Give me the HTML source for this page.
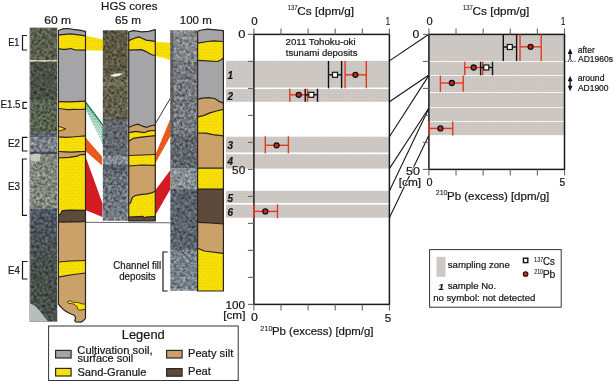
<!DOCTYPE html><html><head><meta charset="utf-8"><style>
html,body{margin:0;padding:0;background:#fff;width:614px;height:382px;overflow:hidden}
svg{display:block;will-change:transform}
text{font-family:"Liberation Sans", sans-serif;fill:#151515;stroke:#151515;stroke-width:0.2px}
</style></head><body>
<svg width="614" height="382" viewBox="0 0 614 382">
<defs>
<pattern id="dots" width="6" height="6" patternUnits="userSpaceOnUse"><rect width="6" height="6" fill="#fae100"/><g fill="#a8983c" opacity="0.75"><circle cx="1" cy="1" r="0.5"/><circle cx="4" cy="2" r="0.5"/><circle cx="2" cy="4.2" r="0.5"/><circle cx="5" cy="5" r="0.5"/></g></pattern>
<pattern id="bandp" width="3" height="3" patternUnits="userSpaceOnUse"><rect width="3" height="3" fill="#cdc8c4"/><rect x="1" y="1" width="1" height="1" fill="#c4bfbb"/></pattern>
<filter id="noise" x="0" y="0" width="100%" height="100%" color-interpolation-filters="sRGB">
<feTurbulence type="fractalNoise" baseFrequency="0.35" numOctaves="3" seed="7" result="t"/>
<feColorMatrix in="t" type="matrix" values="0.7 0 0 0 0.15  0.7 0 0 0 0.15  0.7 0 0 0 0.15  0 0 0 0 1" result="g"/>
<feBlend in="g" in2="SourceGraphic" mode="overlay" result="b"/>
<feComposite in="b" in2="SourceGraphic" operator="in"/>
</filter>
</defs>

<polygon points="85.8,35.7 103,39.5 103,50.6 85.8,50.6" fill="url(#dots)"/>
<polygon points="155.5,42 170.5,42.8 170.5,60 155.5,55.8" fill="url(#dots)"/>
<linearGradient id="gg" x1="0" y1="0" x2="-0.35" y2="0.6"><stop offset="0" stop-color="#2a9a66" stop-opacity="0.3"/><stop offset="1" stop-color="#2a9a66" stop-opacity="0.05"/></linearGradient>
<polygon points="86,102.4 103,125 103,143.9 86,108.7" fill="url(#gg)"/>
<polyline points="85.8,102.4 103,125.5" fill="none" stroke="#127a4a" stroke-width="1.3"/>
<polyline points="86,104.4 103,129.8" fill="none" stroke="#1f8f5c" stroke-width="0.9" stroke-dasharray="1,0.8"/>
<polyline points="86,106.2 103,134" fill="none" stroke="#1f8f5c" stroke-width="0.8" stroke-dasharray="1,0.9"/>
<polyline points="86,107.8 103,138.5" fill="none" stroke="#2a9a66" stroke-width="0.8" stroke-dasharray="0.9,1"/>
<polyline points="86,109 103,143.5" fill="none" stroke="#2a9a66" stroke-width="0.8" stroke-dasharray="0.9,1.1"/>
<line x1="103" y1="125" x2="103" y2="144" stroke="#1f8f5c" stroke-width="1"/>
<pattern id="orp" width="5" height="5" patternUnits="userSpaceOnUse"><rect width="5" height="5" fill="#e8561a"/><circle cx="1.5" cy="1.5" r="0.5" fill="#f4a070" opacity="0.6"/><circle cx="4" cy="4" r="0.5" fill="#f4a070" opacity="0.6"/></pattern>
<pattern id="rdp" width="5" height="5" patternUnits="userSpaceOnUse"><rect width="5" height="5" fill="#d41c24"/><circle cx="1.5" cy="1.5" r="0.5" fill="#b8141c"/><circle cx="4" cy="4" r="0.5" fill="#b8141c"/></pattern>
<polygon points="86,138.2 102,156.6 102,165.6 86,151.5" fill="url(#orp)"/>
<polygon points="86,157.8 102.5,203.5 102.5,217 86,210.3" fill="url(#rdp)"/>
<polygon points="155.5,154.5 170.5,118.5 170.5,136 155.5,163" fill="url(#orp)"/>
<polygon points="155.5,190 170.5,170 170.5,189 155.5,215" fill="url(#rdp)"/>
<line x1="155.5" y1="123.5" x2="170.5" y2="98" stroke="#222" stroke-width="0.9"/>
<line x1="85.5" y1="222.3" x2="170.5" y2="222.8" stroke="#666" stroke-width="1"/>
<g filter="url(#noise)">
<rect x="29.5" y="27.6" width="27.799999999999997" height="32.699999999999996" fill="#5a5e4e"/>
<rect x="29.5" y="60" width="27.799999999999997" height="1.9000000000000015" fill="#d4ccb2"/>
<rect x="29.5" y="61.6" width="27.799999999999997" height="38.699999999999996" fill="#4a5044"/>
<rect x="29.5" y="100" width="27.799999999999997" height="32.8" fill="#586250"/>
<rect x="29.5" y="132.5" width="27.799999999999997" height="4.8" fill="#5c5e68"/>
<rect x="29.5" y="137" width="27.799999999999997" height="14.8" fill="#7a8088"/>
<rect x="29.5" y="151.5" width="27.799999999999997" height="3.3" fill="#484a54"/>
<rect x="29.5" y="154.5" width="27.799999999999997" height="54.499999999999986" fill="#80867c"/>
<linearGradient id="pg1" x1="0" y1="0" x2="0" y2="1"><stop offset="0" stop-color="#4e5664"/><stop offset="1" stop-color="#48524c"/></linearGradient>
<rect x="29.5" y="208.7" width="27.799999999999997" height="53.60000000000001" fill="url(#pg1)"/>
<rect x="29.5" y="262" width="27.799999999999997" height="59.699999999999974" fill="#46504a"/>
</g>
<path d="M29.5,303 Q35,305 40,311 Q44,317 48,321.4 L29.5,321.4 Z" fill="#b8bcbc"/>
<path d="M30.5,155 Q35,152.5 40.5,154 L40,160.5 Q35,163 30.5,160 Z" fill="#c4c8c0"/>
<rect x="29.3" y="27.6" width="1" height="293.8" fill="#c8ccd0" opacity="0.7"/>
<g filter="url(#noise)">
<rect x="102.8" y="30.2" width="25.0" height="42.099999999999994" fill="#5b5843"/>
<rect x="102.8" y="72" width="25.0" height="46.3" fill="#62604b"/>
<rect x="102.8" y="118" width="25.0" height="3.3" fill="#5a5c58"/>
<rect x="102.8" y="121" width="25.0" height="34.999999999999986" fill="#62666e"/>
<rect x="102.8" y="155.7" width="25.0" height="9.400000000000023" fill="#868c92"/>
<rect x="102.8" y="164.8" width="25.0" height="5.4999999999999885" fill="#545860"/>
<linearGradient id="pg2" x1="0" y1="0" x2="0" y2="1"><stop offset="0" stop-color="#646a73"/><stop offset="1" stop-color="#767c84"/></linearGradient>
<rect x="102.8" y="170" width="25.0" height="50.8" fill="url(#pg2)"/>
</g>
<rect x="104" y="82" width="20" height="4" fill="#8a8262" opacity="0.55"/>
<path d="M109.8,75.8 Q115,72.2 123.2,73.6 Q117,78.6 109.8,75.8Z" fill="#f2eee2"/>
<g filter="url(#noise)">
<rect x="170.3" y="30.3" width="27.0" height="30.0" fill="#84878a"/>
<rect x="170.3" y="60" width="27.0" height="74.3" fill="#75797d"/>
<rect x="170.3" y="134" width="27.0" height="34.3" fill="#62676d"/>
<rect x="170.3" y="168" width="27.0" height="21.3" fill="#878e92"/>
<rect x="170.3" y="189" width="27.0" height="61.3" fill="#5a626c"/>
<rect x="170.3" y="250" width="27.0" height="40.8" fill="#78818a"/>
</g>
<rect x="170.3" y="30.3" width="3" height="103" fill="#4a4e52" opacity="0.6"/>
<clipPath id="c60"><polygon points="58.4,30.5 62.8,28.8 68,28.5 73,29.3 79.3,30.1 85.5,31.3 85.5,318.4 83.4,320.7 80.7,322.1 75.6,321.9 74.7,320.2 75.6,318.4 75.2,316.6 73.3,314.7 71,314 67.8,312.5 64.2,310.2 62.3,308.3 60,306 58.4,304.2"/></clipPath>
<g clip-path="url(#c60)">
<rect x="55" y="25" width="35" height="300" fill="#a5a5a7"/>
<polygon points="55.4,35.2 58.4,35.2 64.4,34.3 70.7,33.8 78.5,34.8 85.5,35.8 88.5,35.8 88.5,50.1 85.5,50.1 75.4,50 70.7,48.5 66,49.3 62,49.3 58.4,48.5 55.4,48.5" fill="url(#dots)"/>
<polygon points="55.4,101.7 58.4,101.7 70,101.9 85.5,101.2 88.5,101.2 88.5,109.1 85.5,109.1 80,109.5 74,109.3 68,109.7 63,109 58.4,108.5 55.4,108.5" fill="url(#dots)"/>
<polygon points="55.4,108.5 58.4,108.5 63,109 68,109.7 74,109.3 80,109.5 85.5,109.1 88.5,109.1 88.5,135.8 85.5,135.8 78,136.5 72,137 66,137.4 58.4,136.8 55.4,136.8" fill="#c9a169"/>
<polygon points="56.4,125.6 66,128.9 56.4,132" fill="#fae100" stroke="#2b2222" stroke-width="0.9"/>
<polygon points="55.4,136.8 58.4,136.8 66,137.4 72,137 78,136.5 85.5,135.8 88.5,135.8 88.5,151.5 85.5,151.5 79,151.6 72,152.1 65,151.8 58.4,151.5 55.4,151.5" fill="url(#dots)"/>
<polygon points="55.4,151.5 58.4,151.5 65,151.8 72,152.1 79,151.6 85.5,151.5 88.5,151.5 88.5,154.4 85.5,154.4 79.7,154.8 77.4,156.2 69.1,157.4 58.4,158 55.4,158" fill="#c9a169"/>
<polygon points="55.4,158 58.4,158 69.1,157.4 77.4,156.2 79.7,154.8 85.5,154.4 88.5,154.4 88.5,210.3 85.5,210.3 70,210.2 62.4,210.6 60.5,214 58.4,215.5 55.4,215.5" fill="url(#dots)"/>
<polygon points="55.4,215.5 58.4,215.5 60.5,214 62.4,210.6 70,210.2 85.5,210.3 88.5,210.3 88.5,221.4 85.5,221.4 78,221.9 70,221.6 64,222.2 58.4,221.8 55.4,221.8" fill="#5e4a3b"/>
<polygon points="55.4,221.8 58.4,221.8 64,222.2 70,221.6 78,221.9 85.5,221.4 88.5,221.4 88.5,260.5 85.5,260.5 70,261 58.4,262 55.4,262" fill="#c9a169"/>
<polygon points="55.4,262 58.4,262 70,261 85.5,260.5 88.5,260.5 88.5,273 85.5,273 70,275 58.4,277.2 55.4,277.2" fill="url(#dots)"/>
<rect x="55" y="272" width="35" height="60" fill="#c9a169" clip-path="none"/>
<polygon points="55.4,262 58.4,262 70,261 85.5,260.5 88.5,260.5 88.5,273 85.5,273 70,275 58.4,277.2 55.4,277.2" fill="url(#dots)"/>
<polygon points="67.1,302.1 70.1,300.7 73.4,302.4 76.3,302.4 78.2,302.6 81.9,303.8 86.5,304.3 86.5,309.2 82.9,309.7 79.6,310.2 77.7,309.2 77,306.4 75.3,305.2 73.4,304 71.1,303.5 68.2,303.3" fill="#fae100" stroke="#2b2222" stroke-width="0.8"/>
<polyline points="55.4,35.2 58.4,35.2 64.4,34.3 70.7,33.8 78.5,34.8 85.5,35.8 88.5,35.8" fill="none" stroke="#2b2222" stroke-width="1.2" stroke-linejoin="round"/>
<polyline points="55.4,48.5 58.4,48.5 62,49.3 66,49.3 70.7,48.5 75.4,50 85.5,50.1 88.5,50.1" fill="none" stroke="#2b2222" stroke-width="1.2" stroke-linejoin="round"/>
<polyline points="55.4,101.7 58.4,101.7 70,101.9 85.5,101.2 88.5,101.2" fill="none" stroke="#2b2222" stroke-width="1.2" stroke-linejoin="round"/>
<polyline points="55.4,108.5 58.4,108.5 63,109 68,109.7 74,109.3 80,109.5 85.5,109.1 88.5,109.1" fill="none" stroke="#2b2222" stroke-width="1.2" stroke-linejoin="round"/>
<polyline points="55.4,136.8 58.4,136.8 66,137.4 72,137 78,136.5 85.5,135.8 88.5,135.8" fill="none" stroke="#2b2222" stroke-width="1.2" stroke-linejoin="round"/>
<polyline points="55.4,151.5 58.4,151.5 65,151.8 72,152.1 79,151.6 85.5,151.5 88.5,151.5" fill="none" stroke="#2b2222" stroke-width="1.2" stroke-linejoin="round"/>
<polyline points="55.4,158 58.4,158 69.1,157.4 77.4,156.2 79.7,154.8 85.5,154.4 88.5,154.4" fill="none" stroke="#2b2222" stroke-width="1.2" stroke-linejoin="round"/>
<polyline points="55.4,215.5 58.4,215.5 60.5,214 62.4,210.6 70,210.2 85.5,210.3 88.5,210.3" fill="none" stroke="#2b2222" stroke-width="1.2" stroke-linejoin="round"/>
<polyline points="55.4,221.8 58.4,221.8 64,222.2 70,221.6 78,221.9 85.5,221.4 88.5,221.4" fill="none" stroke="#2b2222" stroke-width="1.2" stroke-linejoin="round"/>
<polyline points="55.4,262 58.4,262 70,261 85.5,260.5 88.5,260.5" fill="none" stroke="#2b2222" stroke-width="1.2" stroke-linejoin="round"/>
<polyline points="55.4,277.2 58.4,277.2 70,275 85.5,273 88.5,273" fill="none" stroke="#2b2222" stroke-width="1.2" stroke-linejoin="round"/>
</g>
<polygon points="58.4,30.5 62.8,28.8 68,28.5 73,29.3 79.3,30.1 85.5,31.3 85.5,318.4 83.4,320.7 80.7,322.1 75.6,321.9 74.7,320.2 75.6,318.4 75.2,316.6 73.3,314.7 71,314 67.8,312.5 64.2,310.2 62.3,308.3 60,306 58.4,304.2" fill="none" stroke="#2b2222" stroke-width="1.2" stroke-linejoin="round"/>
<clipPath id="c65"><polygon points="128.7,31.9 133.2,30.7 137,31.2 141.5,31.9 148.8,31.4 155.3,29.6 155.3,220.8 128.7,220.8"/></clipPath>
<g clip-path="url(#c65)">
<rect x="125" y="25" width="35" height="200" fill="#a5a5a7"/>
<polygon points="125.69999999999999,40.6 128.7,40.6 133.2,38.7 138.7,36.9 142,38.3 146.1,40.1 155.3,41.3 158.3,41.3 158.3,55.7 155.3,55.7 150.7,54.3 146.1,51.6 141.5,49.6 128.7,50.2 125.69999999999999,50.2" fill="url(#dots)"/>
<rect x="125" y="124" width="35" height="100" fill="#c9a169"/>
<polygon points="125.69999999999999,127.5 128.7,127.5 133.2,125.5 137.9,124.1 142.7,126.2 146.8,127.3 151.6,125.5 155.3,125.1 158.3,125.1 158.3,124 125.69999999999999,124" fill="#a5a5a7"/>
<polygon points="125.69999999999999,132.7 128.7,132.7 135.9,131.4 144.1,132.7 148.8,130.9 155.3,130.5 158.3,130.5 158.3,135.7 155.3,135.7 141.3,137.1 133.2,138.4 128.7,141.2 125.69999999999999,141.2" fill="url(#dots)"/>
<polygon points="125.69999999999999,155.5 128.7,155.5 155.3,154.5 158.3,154.5 158.3,165.4 155.3,165.4 141.3,165 128.7,166 125.69999999999999,166" fill="url(#dots)"/>
<polygon points="125.69999999999999,204.4 128.7,204.4 130.8,202.3 131.8,198.6 133.4,196.5 135.5,195.5 140.7,194.6 147,193.9 151.7,192.9 155.3,191.3 158.3,191.3 158.3,216.4 155.3,216.4 146,217 144.4,218 142.8,216.4 128.7,217 125.69999999999999,217" fill="url(#dots)"/>
<polygon points="125.69999999999999,217 128.7,217 142.8,216.4 144.4,218 146,217 155.3,216.4 158.3,216.4 158.3,221 125.69999999999999,221" fill="#5e4a3b"/>
<polyline points="125.69999999999999,40.6 128.7,40.6 133.2,38.7 138.7,36.9 142,38.3 146.1,40.1 155.3,41.3 158.3,41.3" fill="none" stroke="#2b2222" stroke-width="1.2" stroke-linejoin="round"/>
<polyline points="125.69999999999999,50.2 128.7,50.2 141.5,49.6 146.1,51.6 150.7,54.3 155.3,55.7 158.3,55.7" fill="none" stroke="#2b2222" stroke-width="1.2" stroke-linejoin="round"/>
<polyline points="125.69999999999999,127.5 128.7,127.5 133.2,125.5 137.9,124.1 142.7,126.2 146.8,127.3 151.6,125.5 155.3,125.1 158.3,125.1" fill="none" stroke="#2b2222" stroke-width="1.2" stroke-linejoin="round"/>
<polyline points="125.69999999999999,132.7 128.7,132.7 135.9,131.4 144.1,132.7 148.8,130.9 155.3,130.5 158.3,130.5" fill="none" stroke="#2b2222" stroke-width="1.2" stroke-linejoin="round"/>
<polyline points="125.69999999999999,141.2 128.7,141.2 133.2,138.4 141.3,137.1 155.3,135.7 158.3,135.7" fill="none" stroke="#2b2222" stroke-width="1.2" stroke-linejoin="round"/>
<polyline points="125.69999999999999,155.5 128.7,155.5 155.3,154.5 158.3,154.5" fill="none" stroke="#2b2222" stroke-width="1.2" stroke-linejoin="round"/>
<polyline points="125.69999999999999,166 128.7,166 141.3,165 155.3,165.4 158.3,165.4" fill="none" stroke="#2b2222" stroke-width="1.2" stroke-linejoin="round"/>
<polyline points="125.69999999999999,204.4 128.7,204.4 130.8,202.3 131.8,198.6 133.4,196.5 135.5,195.5 140.7,194.6 147,193.9 151.7,192.9 155.3,191.3 158.3,191.3" fill="none" stroke="#2b2222" stroke-width="1.2" stroke-linejoin="round"/>
<polyline points="125.69999999999999,217 128.7,217 142.8,216.4 144.4,218 146,217 155.3,216.4 158.3,216.4" fill="none" stroke="#2b2222" stroke-width="1.2" stroke-linejoin="round"/>
</g>
<polygon points="128.7,31.9 133.2,30.7 137,31.2 141.5,31.9 148.8,31.4 155.3,29.6 155.3,220.8 128.7,220.8" fill="none" stroke="#2b2222" stroke-width="1.2" stroke-linejoin="round"/>
<clipPath id="c100"><polygon points="197.6,31.5 199,30.5 207.6,29.1 223.4,30.6 223.4,291 197.6,291"/></clipPath>
<g clip-path="url(#c100)">
<rect x="195" y="25" width="35" height="270" fill="#a5a5a7"/>
<polygon points="194.6,43.2 197.6,43.2 207.6,41.5 213.5,40.9 223.4,41.5 226.4,41.5 226.4,57.9 223.4,57.9 221.2,59.7 217.6,61.5 197.6,60.3 194.6,60.3" fill="url(#dots)"/>
<rect x="195" y="97" width="35" height="200" fill="#c9a169"/>
<polygon points="194.6,99.4 197.6,99.4 202.2,98.1 208.7,97.6 214.6,98.5 218.6,101.1 223.4,103.1 226.4,103.1 226.4,95 194.6,95" fill="#a5a5a7"/>
<polygon points="194.6,116.9 197.6,116.9 203.5,115.6 210,112.9 216.6,111 223.4,109.4 226.4,109.4 226.4,135.9 223.4,135.9 212.7,134.6 206.1,133.2 197.6,133 194.6,133" fill="url(#dots)"/>
<polygon points="194.6,168.1 197.6,168.1 223.4,168.1 226.4,168.1 226.4,189.1 223.4,189.1 197.6,189.1 194.6,189.1" fill="url(#dots)"/>
<polygon points="194.6,189.1 197.6,189.1 223.4,189.1 226.4,189.1 226.4,224 223.4,224 210,222.8 197.6,222.4 194.6,222.4" fill="#5e4a3b"/>
<polygon points="194.6,248.3 197.6,248.3 204.4,251 223.4,253.4 226.4,253.4 226.4,292 194.6,292" fill="url(#dots)"/>
<polyline points="194.6,43.2 197.6,43.2 207.6,41.5 213.5,40.9 223.4,41.5 226.4,41.5" fill="none" stroke="#2b2222" stroke-width="1.2" stroke-linejoin="round"/>
<polyline points="194.6,60.3 197.6,60.3 217.6,61.5 221.2,59.7 223.4,57.9 226.4,57.9" fill="none" stroke="#2b2222" stroke-width="1.2" stroke-linejoin="round"/>
<polyline points="194.6,99.4 197.6,99.4 202.2,98.1 208.7,97.6 214.6,98.5 218.6,101.1 223.4,103.1 226.4,103.1" fill="none" stroke="#2b2222" stroke-width="1.2" stroke-linejoin="round"/>
<polyline points="194.6,116.9 197.6,116.9 203.5,115.6 210,112.9 216.6,111 223.4,109.4 226.4,109.4" fill="none" stroke="#2b2222" stroke-width="1.2" stroke-linejoin="round"/>
<polyline points="194.6,133 197.6,133 206.1,133.2 212.7,134.6 223.4,135.9 226.4,135.9" fill="none" stroke="#2b2222" stroke-width="1.2" stroke-linejoin="round"/>
<polyline points="194.6,168.1 197.6,168.1 223.4,168.1 226.4,168.1" fill="none" stroke="#2b2222" stroke-width="1.2" stroke-linejoin="round"/>
<polyline points="194.6,189.1 197.6,189.1 223.4,189.1 226.4,189.1" fill="none" stroke="#2b2222" stroke-width="1.2" stroke-linejoin="round"/>
<polyline points="194.6,222.4 197.6,222.4 210,222.8 223.4,224 226.4,224" fill="none" stroke="#2b2222" stroke-width="1.2" stroke-linejoin="round"/>
<polyline points="194.6,248.3 197.6,248.3 204.4,251 223.4,253.4 226.4,253.4" fill="none" stroke="#2b2222" stroke-width="1.2" stroke-linejoin="round"/>
</g>
<polygon points="197.6,31.5 199,30.5 207.6,29.1 223.4,30.6 223.4,291 197.6,291" fill="none" stroke="#2b2222" stroke-width="1.2" stroke-linejoin="round"/>
<text x="101.05" y="9.7" font-size="11.8" textLength="56.46" lengthAdjust="spacingAndGlyphs" >HGS cores</text>
<text x="44.29" y="24.3" font-size="11.8" textLength="26.81" lengthAdjust="spacingAndGlyphs" >60 m</text>
<text x="114.90" y="24.3" font-size="11.8" textLength="26.07" lengthAdjust="spacingAndGlyphs" >65 m</text>
<text x="179.82" y="24.3" font-size="11.8" textLength="31.93" lengthAdjust="spacingAndGlyphs" >100 m</text>
<path d="M27,35.5 L22.5,35.5 L22.5,50 L27,50" fill="none" stroke="#1a1a1a" stroke-width="1.2"/>
<text x="8.26" y="45.8" font-size="10.5" textLength="11.09" lengthAdjust="spacingAndGlyphs" >E1</text>
<path d="M27,102.3 L23,102.3 L23,108.3 L27,108.3" fill="none" stroke="#1a1a1a" stroke-width="1.2"/>
<text x="0.50" y="108.4" font-size="10.3" textLength="20.01" lengthAdjust="spacingAndGlyphs" >E1.5</text>
<path d="M27.5,137.3 L22.5,137.3 L22.5,151 L27.5,151" fill="none" stroke="#1a1a1a" stroke-width="1.2"/>
<text x="7.99" y="147.3" font-size="10.5" textLength="12.11" lengthAdjust="spacingAndGlyphs" >E2</text>
<path d="M27,159 L22.5,159 L22.5,215.3 L27,215.3" fill="none" stroke="#1a1a1a" stroke-width="1.2"/>
<text x="7.99" y="189.8" font-size="10.5" textLength="12.04" lengthAdjust="spacingAndGlyphs" >E3</text>
<path d="M27.5,261.5 L22.5,261.5 L22.5,279 L27.5,279" fill="none" stroke="#1a1a1a" stroke-width="1.2"/>
<text x="8.00" y="273.9" font-size="10.5" textLength="11.88" lengthAdjust="spacingAndGlyphs" >E4</text>
<path d="M167.6,252 L163,252 L163,291 L167.6,291" fill="none" stroke="#1a1a1a" stroke-width="1.2"/>
<text x="113.31" y="269.2" font-size="10.4" textLength="47.84" lengthAdjust="spacingAndGlyphs" >Channel fill</text>
<text x="119.19" y="279.6" font-size="10.4" textLength="36.36" lengthAdjust="spacingAndGlyphs" >deposits</text>
<rect x="226" y="60.9" width="163.39999999999998" height="26.6" fill="url(#bandp)"/>
<rect x="226" y="89" width="163.39999999999998" height="12.799999999999997" fill="url(#bandp)"/>
<rect x="226" y="136.7" width="163.39999999999998" height="15.800000000000011" fill="url(#bandp)"/>
<rect x="226" y="154.2" width="163.39999999999998" height="14.400000000000006" fill="url(#bandp)"/>
<rect x="226" y="190.9" width="163.39999999999998" height="12.0" fill="url(#bandp)"/>
<rect x="226" y="204.7" width="163.39999999999998" height="13.0" fill="url(#bandp)"/>
<rect x="253.9" y="34.4" width="135.49999999999997" height="270.0" fill="none" stroke="#1a1a1a" stroke-width="1.5"/>
<line x1="253.9" y1="28.4" x2="253.9" y2="34.4" stroke="#666" stroke-width="1.1"/>
<line x1="253.9" y1="304.4" x2="253.9" y2="310.4" stroke="#666" stroke-width="1.1"/>
<line x1="281.0" y1="28.4" x2="281.0" y2="34.4" stroke="#666" stroke-width="1.1"/>
<line x1="281.0" y1="304.4" x2="281.0" y2="310.4" stroke="#666" stroke-width="1.1"/>
<line x1="308.1" y1="28.4" x2="308.1" y2="34.4" stroke="#666" stroke-width="1.1"/>
<line x1="308.1" y1="304.4" x2="308.1" y2="310.4" stroke="#666" stroke-width="1.1"/>
<line x1="335.2" y1="28.4" x2="335.2" y2="34.4" stroke="#666" stroke-width="1.1"/>
<line x1="335.2" y1="304.4" x2="335.2" y2="310.4" stroke="#666" stroke-width="1.1"/>
<line x1="362.29999999999995" y1="28.4" x2="362.29999999999995" y2="34.4" stroke="#666" stroke-width="1.1"/>
<line x1="362.29999999999995" y1="304.4" x2="362.29999999999995" y2="310.4" stroke="#666" stroke-width="1.1"/>
<line x1="389.4" y1="28.4" x2="389.4" y2="34.4" stroke="#666" stroke-width="1.1"/>
<line x1="389.4" y1="304.4" x2="389.4" y2="310.4" stroke="#666" stroke-width="1.1"/>
<line x1="247.9" y1="34.4" x2="253.9" y2="34.4" stroke="#666" stroke-width="1.1"/>
<line x1="247.9" y1="61.4" x2="253.9" y2="61.4" stroke="#666" stroke-width="1.1"/>
<line x1="247.9" y1="88.4" x2="253.9" y2="88.4" stroke="#666" stroke-width="1.1"/>
<line x1="247.9" y1="115.4" x2="253.9" y2="115.4" stroke="#666" stroke-width="1.1"/>
<line x1="247.9" y1="142.4" x2="253.9" y2="142.4" stroke="#666" stroke-width="1.1"/>
<line x1="247.9" y1="169.4" x2="253.9" y2="169.4" stroke="#666" stroke-width="1.1"/>
<line x1="247.9" y1="196.4" x2="253.9" y2="196.4" stroke="#666" stroke-width="1.1"/>
<line x1="247.9" y1="223.4" x2="253.9" y2="223.4" stroke="#666" stroke-width="1.1"/>
<line x1="247.9" y1="250.4" x2="253.9" y2="250.4" stroke="#666" stroke-width="1.1"/>
<line x1="247.9" y1="277.4" x2="253.9" y2="277.4" stroke="#666" stroke-width="1.1"/>
<line x1="247.9" y1="304.4" x2="253.9" y2="304.4" stroke="#666" stroke-width="1.1"/>
<text x="227.6" y="79.0" font-size="10" font-weight="bold" font-style="italic">1</text>
<text x="227.6" y="99.5" font-size="10" font-weight="bold" font-style="italic">2</text>
<text x="227.6" y="149.3" font-size="10" font-weight="bold" font-style="italic">3</text>
<text x="227.6" y="164.9" font-size="10" font-weight="bold" font-style="italic">4</text>
<text x="227.6" y="201.5" font-size="10" font-weight="bold" font-style="italic">5</text>
<text x="227.6" y="215.7" font-size="10" font-weight="bold" font-style="italic">6</text>
<text x="238.29" y="37.8" font-size="11.5" textLength="7.21" lengthAdjust="spacingAndGlyphs" >0</text>
<text x="232.13" y="173.8" font-size="11.5" textLength="13.13" lengthAdjust="spacingAndGlyphs" >50</text>
<text x="225.61" y="309.1" font-size="11.5" textLength="19.44" lengthAdjust="spacingAndGlyphs" >100</text>
<text x="223.16" y="319.3" font-size="11.5" textLength="22.28" lengthAdjust="spacingAndGlyphs" >[cm]</text>
<text x="251.15" y="25" font-size="11.5" textLength="6.40" lengthAdjust="spacingAndGlyphs" >0</text>
<text x="385.72" y="24.8" font-size="11.5" textLength="4.26" lengthAdjust="spacingAndGlyphs" >1</text>
<text x="250.92" y="321.4" font-size="11.5" textLength="6.86" lengthAdjust="spacingAndGlyphs" >0</text>
<text x="384.74" y="321.7" font-size="11.5" textLength="6.45" lengthAdjust="spacingAndGlyphs" >5</text>
<text x="287.65" y="10.1" font-size="6.6" textLength="9.95" lengthAdjust="spacingAndGlyphs" style="stroke-width:0.08px">137</text>
<text x="297.30" y="14.6" font-size="10.8" textLength="56.73" lengthAdjust="spacingAndGlyphs" >Cs [dpm/g]</text>
<text x="260.33" y="330.7" font-size="6.6" textLength="12.26" lengthAdjust="spacingAndGlyphs" style="stroke-width:0.08px">210</text>
<text x="271.96" y="335.2" font-size="10.8" textLength="101.55" lengthAdjust="spacingAndGlyphs" >Pb (excess) [dpm/g]</text>
<text x="285.53" y="44.9" font-size="9.6" textLength="70.11" lengthAdjust="spacingAndGlyphs" >2011 Tohoku-oki</text>
<text x="285.86" y="55.8" font-size="9.6" textLength="71.59" lengthAdjust="spacingAndGlyphs" >tsunami deposits</text>
<line x1="328.5" y1="74.8" x2="341.6" y2="74.8" stroke="#111" stroke-width="1.4"/>
<line x1="328.5" y1="61" x2="328.5" y2="88.3" stroke="#111" stroke-width="1.4"/>
<line x1="341.6" y1="61" x2="341.6" y2="88.3" stroke="#111" stroke-width="1.4"/>
<rect x="332.5" y="72.3" width="5" height="5" fill="#fff" stroke="#111" stroke-width="1.2"/>
<line x1="345.1" y1="74.8" x2="366.3" y2="74.8" stroke="#e03a1e" stroke-width="1.4"/>
<line x1="345.1" y1="61" x2="345.1" y2="88.3" stroke="#e03a1e" stroke-width="1.4"/>
<line x1="366.3" y1="61" x2="366.3" y2="88.3" stroke="#e03a1e" stroke-width="1.4"/>
<circle cx="355.4" cy="74.8" r="2.5" fill="#d8231c" stroke="#111" stroke-width="1.3"/>
<line x1="289.8" y1="94.8" x2="307.4" y2="94.8" stroke="#e03a1e" stroke-width="1.4"/>
<line x1="289.8" y1="88.8" x2="289.8" y2="101.8" stroke="#e03a1e" stroke-width="1.4"/>
<line x1="307.4" y1="88.8" x2="307.4" y2="101.8" stroke="#e03a1e" stroke-width="1.4"/>
<circle cx="298.7" cy="94.8" r="2.5" fill="#d8231c" stroke="#111" stroke-width="1.3"/>
<line x1="305.2" y1="94.8" x2="317.5" y2="94.8" stroke="#111" stroke-width="1.4"/>
<line x1="305.2" y1="88.8" x2="305.2" y2="101.8" stroke="#111" stroke-width="1.4"/>
<line x1="317.5" y1="88.8" x2="317.5" y2="101.8" stroke="#111" stroke-width="1.4"/>
<rect x="308.8" y="92.3" width="5" height="5" fill="#fff" stroke="#111" stroke-width="1.2"/>
<line x1="265.3" y1="145.3" x2="288.4" y2="145.3" stroke="#e03a1e" stroke-width="1.4"/>
<line x1="265.3" y1="136.3" x2="265.3" y2="153.3" stroke="#e03a1e" stroke-width="1.4"/>
<line x1="288.4" y1="136.3" x2="288.4" y2="153.3" stroke="#e03a1e" stroke-width="1.4"/>
<circle cx="276.6" cy="145.3" r="2.5" fill="#d8231c" stroke="#111" stroke-width="1.3"/>
<line x1="253.8" y1="211.4" x2="277.5" y2="211.4" stroke="#e03a1e" stroke-width="1.4"/>
<line x1="253.8" y1="204.4" x2="253.8" y2="218.2" stroke="#e03a1e" stroke-width="1.4"/>
<line x1="277.5" y1="204.4" x2="277.5" y2="218.2" stroke="#e03a1e" stroke-width="1.4"/>
<circle cx="265.3" cy="211.4" r="2.5" fill="#d8231c" stroke="#111" stroke-width="1.3"/>
<line x1="389.4" y1="60.9" x2="428.9" y2="34.3" stroke="#111" stroke-width="1.05"/>
<line x1="389.4" y1="101.8" x2="428.9" y2="75.0" stroke="#111" stroke-width="1.05"/>
<line x1="389.4" y1="136.7" x2="428.9" y2="75.4" stroke="#111" stroke-width="1.05"/>
<line x1="389.4" y1="168.6" x2="428.9" y2="108.0" stroke="#111" stroke-width="1.05"/>
<line x1="389.4" y1="190.9" x2="428.9" y2="108.2" stroke="#111" stroke-width="1.05"/>
<line x1="389.4" y1="217.7" x2="428.9" y2="135.2" stroke="#111" stroke-width="1.05"/>
<rect x="428.9" y="34.3" width="135.60000000000002" height="26.800000000000004" fill="url(#bandp)"/>
<rect x="428.9" y="61.9" width="135.60000000000002" height="13.199999999999996" fill="url(#bandp)"/>
<rect x="428.9" y="75.9" width="135.60000000000002" height="16.099999999999994" fill="url(#bandp)"/>
<rect x="428.9" y="92.8" width="135.60000000000002" height="14.5" fill="url(#bandp)"/>
<rect x="428.9" y="108.1" width="135.60000000000002" height="13.0" fill="url(#bandp)"/>
<rect x="428.9" y="121.9" width="135.60000000000002" height="13.199999999999989" fill="url(#bandp)"/>
<rect x="428.9" y="34.4" width="135.60000000000002" height="135.0" fill="none" stroke="#1a1a1a" stroke-width="1.5"/>
<line x1="428.9" y1="28.4" x2="428.9" y2="34.4" stroke="#666" stroke-width="1.1"/>
<line x1="428.9" y1="169.4" x2="428.9" y2="175.4" stroke="#666" stroke-width="1.1"/>
<line x1="456.02" y1="28.4" x2="456.02" y2="34.4" stroke="#666" stroke-width="1.1"/>
<line x1="456.02" y1="169.4" x2="456.02" y2="175.4" stroke="#666" stroke-width="1.1"/>
<line x1="483.14" y1="28.4" x2="483.14" y2="34.4" stroke="#666" stroke-width="1.1"/>
<line x1="483.14" y1="169.4" x2="483.14" y2="175.4" stroke="#666" stroke-width="1.1"/>
<line x1="510.26" y1="28.4" x2="510.26" y2="34.4" stroke="#666" stroke-width="1.1"/>
<line x1="510.26" y1="169.4" x2="510.26" y2="175.4" stroke="#666" stroke-width="1.1"/>
<line x1="537.38" y1="28.4" x2="537.38" y2="34.4" stroke="#666" stroke-width="1.1"/>
<line x1="537.38" y1="169.4" x2="537.38" y2="175.4" stroke="#666" stroke-width="1.1"/>
<line x1="564.5" y1="28.4" x2="564.5" y2="34.4" stroke="#666" stroke-width="1.1"/>
<line x1="564.5" y1="169.4" x2="564.5" y2="175.4" stroke="#666" stroke-width="1.1"/>
<line x1="422.9" y1="34.4" x2="428.9" y2="34.4" stroke="#666" stroke-width="1.1"/>
<line x1="422.9" y1="61.4" x2="428.9" y2="61.4" stroke="#666" stroke-width="1.1"/>
<line x1="422.9" y1="88.4" x2="428.9" y2="88.4" stroke="#666" stroke-width="1.1"/>
<line x1="422.9" y1="115.4" x2="428.9" y2="115.4" stroke="#666" stroke-width="1.1"/>
<line x1="422.9" y1="142.4" x2="428.9" y2="142.4" stroke="#666" stroke-width="1.1"/>
<line x1="422.9" y1="169.4" x2="428.9" y2="169.4" stroke="#666" stroke-width="1.1"/>
<text x="412.53" y="38.2" font-size="11.5" textLength="6.75" lengthAdjust="spacingAndGlyphs" >0</text>
<text x="406.00" y="174.6" font-size="11.5" textLength="13.89" lengthAdjust="spacingAndGlyphs" style="stroke:#fff;stroke-width:1.6px">50</text>
<text x="406.00" y="174.6" font-size="11.5" textLength="13.89" lengthAdjust="spacingAndGlyphs" >50</text>
<text x="398.75" y="186.4" font-size="11.5" textLength="22.39" lengthAdjust="spacingAndGlyphs" style="stroke:#fff;stroke-width:1.2px">[cm]</text>
<text x="398.75" y="186.4" font-size="11.5" textLength="22.39" lengthAdjust="spacingAndGlyphs" >[cm]</text>
<text x="426.57" y="25" font-size="11.5" textLength="6.17" lengthAdjust="spacingAndGlyphs" >0</text>
<text x="560.92" y="24.8" font-size="11.5" textLength="4.26" lengthAdjust="spacingAndGlyphs" >1</text>
<text x="426.38" y="186.4" font-size="11.5" textLength="6.05" lengthAdjust="spacingAndGlyphs" >0</text>
<text x="559.59" y="185.9" font-size="11.5" textLength="5.75" lengthAdjust="spacingAndGlyphs" >5</text>
<text x="462.95" y="10.1" font-size="6.6" textLength="9.95" lengthAdjust="spacingAndGlyphs" style="stroke-width:0.08px">137</text>
<text x="472.60" y="14.6" font-size="10.8" textLength="56.73" lengthAdjust="spacingAndGlyphs" >Cs [dpm/g]</text>
<text x="435.74" y="195.1" font-size="6.6" textLength="11.83" lengthAdjust="spacingAndGlyphs" style="stroke-width:0.08px">210</text>
<text x="446.96" y="199.6" font-size="10.8" textLength="102.37" lengthAdjust="spacingAndGlyphs" >Pb (excess) [dpm/g]</text>
<line x1="503.3" y1="47" x2="516.6" y2="47" stroke="#111" stroke-width="1.4"/>
<line x1="503.3" y1="34.3" x2="503.3" y2="61.1" stroke="#111" stroke-width="1.4"/>
<line x1="516.6" y1="34.3" x2="516.6" y2="61.1" stroke="#111" stroke-width="1.4"/>
<rect x="507.3" y="44.5" width="5" height="5" fill="#fff" stroke="#111" stroke-width="1.2"/>
<line x1="520" y1="46.8" x2="541.2" y2="46.8" stroke="#e03a1e" stroke-width="1.4"/>
<line x1="520" y1="34.3" x2="520" y2="61.1" stroke="#e03a1e" stroke-width="1.4"/>
<line x1="541.2" y1="34.3" x2="541.2" y2="61.1" stroke="#e03a1e" stroke-width="1.4"/>
<circle cx="530.6" cy="46.8" r="2.5" fill="#d8231c" stroke="#111" stroke-width="1.3"/>
<line x1="464.8" y1="67.5" x2="482.7" y2="67.5" stroke="#e03a1e" stroke-width="1.4"/>
<line x1="464.8" y1="61.8" x2="464.8" y2="75.3" stroke="#e03a1e" stroke-width="1.4"/>
<line x1="482.7" y1="61.8" x2="482.7" y2="75.3" stroke="#e03a1e" stroke-width="1.4"/>
<circle cx="473.7" cy="67.5" r="2.5" fill="#d8231c" stroke="#111" stroke-width="1.3"/>
<line x1="480.6" y1="67.5" x2="492.5" y2="67.5" stroke="#111" stroke-width="1.4"/>
<line x1="480.6" y1="61.8" x2="480.6" y2="75.3" stroke="#111" stroke-width="1.4"/>
<line x1="492.5" y1="61.8" x2="492.5" y2="75.3" stroke="#111" stroke-width="1.4"/>
<rect x="483.8" y="65.0" width="5" height="5" fill="#fff" stroke="#111" stroke-width="1.2"/>
<line x1="440.4" y1="83" x2="463.2" y2="83" stroke="#e03a1e" stroke-width="1.4"/>
<line x1="440.4" y1="75.6" x2="440.4" y2="91.8" stroke="#e03a1e" stroke-width="1.4"/>
<line x1="463.2" y1="75.6" x2="463.2" y2="91.8" stroke="#e03a1e" stroke-width="1.4"/>
<circle cx="451.9" cy="83" r="2.5" fill="#d8231c" stroke="#111" stroke-width="1.3"/>
<line x1="428.8" y1="128.4" x2="452.7" y2="128.4" stroke="#e03a1e" stroke-width="1.4"/>
<line x1="428.8" y1="121.4" x2="428.8" y2="135.5" stroke="#e03a1e" stroke-width="1.4"/>
<line x1="452.7" y1="121.4" x2="452.7" y2="135.5" stroke="#e03a1e" stroke-width="1.4"/>
<circle cx="440.4" cy="128.4" r="2.5" fill="#d8231c" stroke="#111" stroke-width="1.3"/>
<text x="577.64" y="53" font-size="8.9" textLength="17.11" lengthAdjust="spacingAndGlyphs" >after</text>
<text x="577.98" y="61.9" font-size="8.9" textLength="34.92" lengthAdjust="spacingAndGlyphs" >AD1960s</text>
<text x="577.63" y="81" font-size="8.9" textLength="26.82" lengthAdjust="spacingAndGlyphs" >around</text>
<text x="577.98" y="91.1" font-size="8.9" textLength="30.55" lengthAdjust="spacingAndGlyphs" >AD1900</text>
<line x1="570.1" y1="52" x2="570.1" y2="59.6" stroke="#111" stroke-width="1.3"/>
<path d="M567.7,54 L570.1,48.6 L572.5,54 Z" fill="#111"/>
<path d="M569.3,59.4 L568.2,61.4 M570.9,59.4 L572,61.4" stroke="#111" stroke-width="0.8" fill="none"/>
<line x1="565.5" y1="61.4" x2="576.5" y2="61.4" stroke="#111" stroke-width="0.8" stroke-dasharray="1,1.3"/>
<line x1="570.1" y1="79" x2="570.1" y2="88" stroke="#111" stroke-width="1.3"/>
<path d="M567.7,81.2 L570.1,75.8 L572.5,81.2 Z" fill="#111"/>
<path d="M567.7,85.8 L570.1,91.2 L572.5,85.8 Z" fill="#111"/>
<rect x="48.6" y="326" width="189.6" height="54.5" fill="#fff" stroke="#333" stroke-width="1"/>
<text x="121.74" y="338.9" font-size="12.6" textLength="42.99" lengthAdjust="spacingAndGlyphs" >Legend</text>
<rect x="55.6" y="350.4" width="15.5" height="7.6" fill="#a5a5a7" stroke="#2a2a2a" stroke-width="1.2"/>
<rect x="55.6" y="368.4" width="15.5" height="7.6" fill="#fae100" stroke="#2a2a2a" stroke-width="1.2"/>
<rect x="166.6" y="350.4" width="15.5" height="7.6" fill="#c9a169" stroke="#2a2a2a" stroke-width="1.2"/>
<rect x="166.6" y="368.6" width="15.5" height="7.6" fill="#5e4a3b" stroke="#2a2a2a" stroke-width="1.2"/>
<text x="77.33" y="353.8" font-size="10.8" textLength="75.17" lengthAdjust="spacingAndGlyphs" >Cultivation soil,</text>
<text x="77.59" y="362.4" font-size="10.8" textLength="55.64" lengthAdjust="spacingAndGlyphs" >surface soil</text>
<text x="77.40" y="375.5" font-size="10.7" textLength="69.10" lengthAdjust="spacingAndGlyphs" >Sand-Granule</text>
<text x="187.98" y="357.1" font-size="10.7" textLength="45.30" lengthAdjust="spacingAndGlyphs" >Peaty silt</text>
<text x="187.99" y="375.4" font-size="10.7" textLength="22.89" lengthAdjust="spacingAndGlyphs" >Peat</text>
<rect x="429.6" y="249.6" width="131.6" height="57.6" fill="#fff" stroke="#333" stroke-width="1"/>
<rect x="436.5" y="256.8" width="9" height="20" fill="#cdc8c4"/>
<text x="447.73" y="268.2" font-size="9.4" textLength="62.10" lengthAdjust="spacingAndGlyphs" >sampling zone</text>
<text x="438.5" y="290" font-size="9.5" font-weight="bold" font-style="italic">1</text>
<text x="447.73" y="288.7" font-size="9.4" textLength="48.34" lengthAdjust="spacingAndGlyphs" >sample No.</text>
<text x="433.16" y="301.3" font-size="9.4" textLength="102.26" lengthAdjust="spacingAndGlyphs" >no symbol: not detected</text>
<rect x="523.4" y="258.2" width="4.4" height="4.4" fill="#fff" stroke="#111" stroke-width="1.4"/>
<circle cx="525.6" cy="274" r="2.3" fill="#d8231c" stroke="#111" stroke-width="1.1"/>
<text x="534.08" y="262.0" font-size="6.3" textLength="9.20" lengthAdjust="spacingAndGlyphs" style="stroke-width:0.08px">137</text>
<text x="543.01" y="265" font-size="10.4" textLength="11.84" lengthAdjust="spacingAndGlyphs" >Cs</text>
<text x="534.24" y="274.4" font-size="6.3" textLength="8.77" lengthAdjust="spacingAndGlyphs" style="stroke-width:0.08px">210</text>
<text x="542.65" y="277.5" font-size="10.4" textLength="12.69" lengthAdjust="spacingAndGlyphs" >Pb</text>
</svg></body></html>
